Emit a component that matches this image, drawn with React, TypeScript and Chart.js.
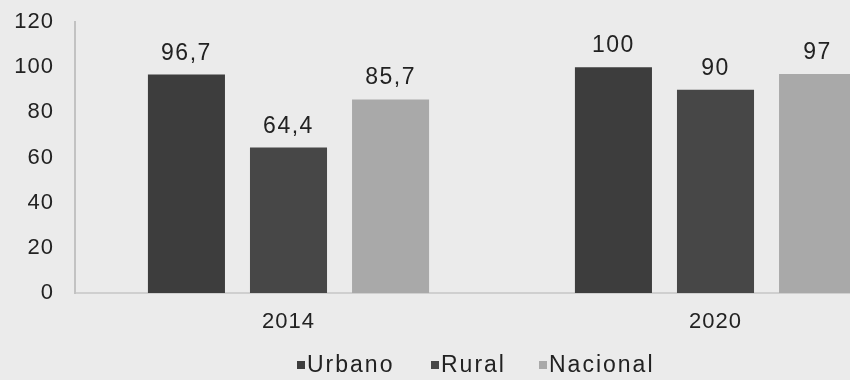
import React, { useEffect, useRef } from "react";
import { Chart, registerables } from "chart.js";

Chart.register(...registerables);

const categories = ["2014", "2020"];
const seriesNames = ["Urbano", "Rural", "Nacional"];
const urbano = [96.7, 100];
const rural = [64.4, 90];
const nacional = [85.7, 97];
const seriesColors = ["#3d3d3d", "#474747", "#a9a9a9"];
const yTicks = [0, 20, 40, 60, 80, 100, 120];

const FONT = '"Liberation Sans", Arial, sans-serif';
const TEXT = "#222222";

const fmt = (v: number) => String(v).replace(".", ",");

const valueLabels = {
  id: "valueLabels",
  afterDatasetsDraw(chart: any) {
    const ctx = chart.ctx;
    ctx.save();
    ctx.font = `23px ${FONT}`;
    (ctx as any).letterSpacing = "1.5px";
    ctx.fillStyle = TEXT;
    ctx.textAlign = "center";
    ctx.textBaseline = "alphabetic";
    chart.data.datasets.forEach((ds: any, i: number) => {
      const meta = chart.getDatasetMeta(i);
      meta.data.forEach((el: any, j: number) => {
        ctx.fillText(fmt(ds.data[j]), el.x, el.y - 15);
      });
    });
    ctx.restore();
  },
};

const spacing = {
  id: "spacing",
  beforeDraw(chart: any) {
    (chart.ctx as any).letterSpacing = "1px";
  },
  afterDraw(chart: any) {
    (chart.ctx as any).letterSpacing = "0px";
  },
};

export default function App() {
  const ref = useRef<HTMLCanvasElement | null>(null);

  useEffect(() => {
    if (!ref.current) return;
    const data = [urbano, rural, nacional];
    const chart = new Chart(ref.current, {
      type: "bar",
      data: {
        labels: categories,
        datasets: seriesNames.map((name, i) => ({
          label: name,
          data: data[i],
          backgroundColor: seriesColors[i],
          borderWidth: 0,
          categoryPercentage: 0.717,
          barPercentage: 0.755,
        })),
      },
      options: {
        responsive: false,
        animation: false,
        layout: { padding: { top: 22, right: 1, left: 0, bottom: 0 } },
        plugins: {
          legend: { display: false },
          tooltip: { enabled: false },
        },
        scales: {
          x: {
            grid: { display: false, drawTicks: false },
            border: { display: true, color: "#cfcfcf", width: 2 },
            ticks: { font: { size: 22, family: FONT }, color: TEXT, padding: 16 },
            afterFit: (s: any) => {
              s.height = 87;
            },
          },
          y: {
            min: 0,
            max: 120,
            grid: { display: false, drawTicks: false },
            border: { display: true, color: "#c2c2c2", width: 2 },
            afterBuildTicks: (s: any) => {
              s.ticks = yTicks.map((v) => ({ value: v }));
            },
            ticks: { font: { size: 22, family: FONT }, color: TEXT, padding: 21 },
            afterFit: (s: any) => {
              s.width = 75;
              s.paddingTop = 0;
              s.paddingBottom = 0;
            },
          },
        },
      },
      plugins: [spacing, valueLabels],
    });
    return () => chart.destroy();
  }, []);

  const legendX = [297, 431, 539];

  return (
    <div
      style={{
        position: "fixed",
        left: 0,
        top: 0,
        width: 850,
        height: 380,
        overflow: "hidden",
        background: "#ebebeb",
      }}
    >
      <canvas ref={ref} width={930} height={380} style={{ display: "block" }} />
      {seriesNames.map((name, i) => (
        <div
          key={name}
          style={{
            position: "absolute",
            left: legendX[i],
            top: 353,
            height: 22,
            display: "flex",
            alignItems: "center",
            fontFamily: FONT,
            fontSize: 23,
            lineHeight: "22px",
            letterSpacing: "2px",
            color: TEXT,
            whiteSpace: "nowrap",
          }}
        >
          <span
            style={{
              display: "inline-block",
              width: 8,
              height: 8,
              background: seriesColors[i],
              marginRight: 2,
              marginTop: 2,
            }}
          />
          {name}
        </div>
      ))}
    </div>
  );
}
